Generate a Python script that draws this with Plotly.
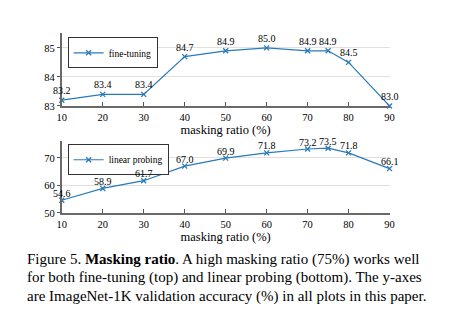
import plotly.graph_objects as go

# Masking ratio sweep (%)
ratios = [10, 20, 30, 40, 50, 60, 70, 75, 80, 90]
# ImageNet-1K validation accuracy (%)
finetune_acc = [83.2, 83.4, 83.4, 84.7, 84.9, 85.0, 84.9, 84.9, 84.5, 83.0]
linprobe_acc = [54.6, 58.9, 61.7, 67.0, 69.9, 71.8, 73.2, 73.5, 71.8, 66.1]
x_ticks = [10, 20, 30, 40, 50, 60, 70, 80, 90]

W, H = 466, 321
BLUE = "#2a7ab9"
SERIF = "Liberation Serif, Times New Roman, serif"


def px_x(p):
    return p / W


def px_y(p):
    return 1 - p / H


fig = go.Figure()

common = dict(
    mode="lines+markers",
    line=dict(color=BLUE, width=1.2),
    marker=dict(symbol="x-thin", size=5, color=BLUE, line=dict(color=BLUE, width=1.3)),
    cliponaxis=False,
)

fig.add_trace(go.Scatter(x=ratios, y=finetune_acc, name="fine-tuning",
                         xaxis="x", yaxis="y", legend="legend", **common))
fig.add_trace(go.Scatter(x=ratios, y=linprobe_acc, name="linear probing",
                         xaxis="x2", yaxis="y2", legend="legend2", **common))

# value labels just above each point
for xs, ys, xref, yref, shift in [(ratios, finetune_acc, "x", "y", 9.5),
                                  (ratios, linprobe_acc, "x2", "y2", 7)]:
    for xv, yv in zip(xs, ys):
        fig.add_annotation(
            x=xv, y=yv, xref=xref, yref=yref, text=f"{yv:.1f}", showarrow=False,
            xanchor="center", yanchor="middle", yshift=shift,
            font=dict(family=SERIF, size=10, color="black"),
        )

xdom = [px_x(58), px_x(393)]
xcommon = dict(
    domain=xdom, range=[10, 90], tickvals=x_ticks, showgrid=False, zeroline=False,
    showline=True, linecolor="#6a6a6a", linewidth=2,
    ticks="inside", ticklen=4, tickcolor="#555", tickwidth=1,
    tickfont=dict(family=SERIF, size=10.5, color="black"),
    title=dict(text="masking ratio (%)", font=dict(family=SERIF, size=12.5, color="black"), standoff=3),
)
ycommon = dict(
    showgrid=True, gridcolor="#e0e0e0", gridwidth=1, zeroline=False,
    showline=True, linecolor="#6a6a6a", linewidth=2,
    ticks="outside", ticklen=3, tickcolor="#555", tickwidth=1,
    tickfont=dict(family=SERIF, size=10.5, color="black"),
)

legend_common = dict(
    bgcolor="white", bordercolor="#333", borderwidth=1,
    font=dict(family=SERIF, size=9.5, color="black"),
    xanchor="left", yanchor="top", tracegroupgap=0, itemwidth=30,
)

fig.update_layout(
    width=W, height=H,
    margin=dict(l=0, r=0, t=0, b=0),
    paper_bgcolor="white", plot_bgcolor="white",
    xaxis=dict(anchor="y", **xcommon),
    yaxis=dict(anchor="x", domain=[px_y(108), px_y(34)], range=[83, 85.5],
               tickvals=[83, 84, 85], **ycommon),
    xaxis2=dict(anchor="y2", **xcommon),
    yaxis2=dict(anchor="x2", domain=[px_y(217), px_y(144)], range=[50, 76],
                tickvals=[50, 60, 70], **ycommon),
    legend=dict(x=px_x(64), y=px_y(38), **legend_common),
    legend2=dict(x=px_x(64), y=px_y(147), **legend_common),
    showlegend=True,
)

caption = [
    "Figure 5. <b>Masking ratio</b>. A high masking ratio (75%) works well",
    "for both fine-tuning (top) and linear probing (bottom). The y-axes",
    "are ImageNet-1K validation accuracy (%) in all plots in this paper.",
]
for i, line in enumerate(caption):
    fig.add_annotation(
        text=line, xref="paper", yref="paper", x=px_x(20), y=px_y(264 + 19 * i),
        xanchor="left", yanchor="middle", showarrow=False,
        font=dict(family=SERIF, size=15, color="black"),
    )

fig.write_html("out.html")
